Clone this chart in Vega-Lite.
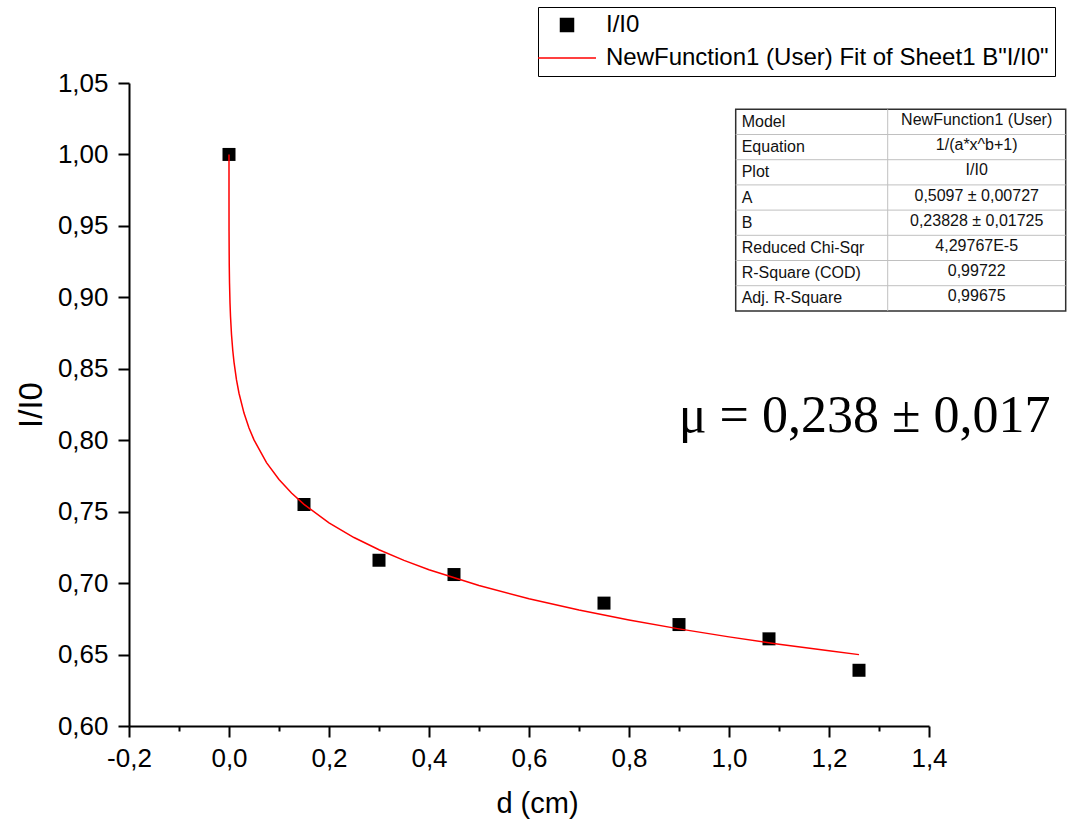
{
  "$schema": "https://vega.github.io/schema/vega-lite/v6.json",
  "width": 800,
  "height": 643,
  "autosize": {"type": "none"},
  "padding": {"left": 129, "top": 83, "right": 140, "bottom": 102},
  "background": "white",
  "config": {
    "view": {"stroke": null},
    "font": "Liberation Sans",
    "axis": {
      "grid": false,
      "domainColor": "black",
      "domainWidth": 2,
      "tickColor": "black",
      "tickWidth": 2,
      "labelColor": "black",
      "titleColor": "black",
      "labelFont": "Liberation Sans",
      "titleFont": "Liberation Sans",
      "labelFontSize": 26,
      "titleFontSize": 30,
      "titleFontWeight": "normal",
      "labelOverlap": false,
      "labelFlush": false
    },
    "legend": {
      "title": null,
      "orient": "none",
      "legendX": 409,
      "legendY": -76,
      "padding": 6,
      "strokeColor": "black",
      "fillColor": "white",
      "symbolSize": 169,
      "symbolStrokeWidth": 1.5,
      "labelFontSize": 24,
      "labelColor": "black",
      "labelLimit": 1000,
      "labelOffset": 38,
      "rowPadding": 9
    }
  },
  "datasets": {
    "points": [
      {"d": 0, "ratio": 1.0, "series": "I/I0"},
      {"d": 0.15, "ratio": 0.755, "series": "I/I0"},
      {"d": 0.3, "ratio": 0.716, "series": "I/I0"},
      {"d": 0.45, "ratio": 0.706, "series": "I/I0"},
      {"d": 0.75, "ratio": 0.686, "series": "I/I0"},
      {"d": 0.9, "ratio": 0.671, "series": "I/I0"},
      {"d": 1.08, "ratio": 0.661, "series": "I/I0"},
      {"d": 1.26, "ratio": 0.639, "series": "I/I0"}
    ],
    "fit": [
      {"d": 0, "ratio": 1.0, "series": "NewFunction1 (User) Fit of Sheet1 B\"I/I0\""},
      {"d": 0.0000001, "ratio": 0.98917, "series": "NewFunction1 (User) Fit of Sheet1 B\"I/I0\""},
      {"d": 0.000001, "ratio": 0.98139, "series": "NewFunction1 (User) Fit of Sheet1 B\"I/I0\""},
      {"d": 0.00001, "ratio": 0.96824, "series": "NewFunction1 (User) Fit of Sheet1 B\"I/I0\""},
      {"d": 0.0001, "ratio": 0.94628, "series": "NewFunction1 (User) Fit of Sheet1 B\"I/I0\""},
      {"d": 0.0005, "ratio": 0.92308, "series": "NewFunction1 (User) Fit of Sheet1 B\"I/I0\""},
      {"d": 0.001, "ratio": 0.9105, "series": "NewFunction1 (User) Fit of Sheet1 B\"I/I0\""},
      {"d": 0.002, "ratio": 0.89611, "series": "NewFunction1 (User) Fit of Sheet1 B\"I/I0\""},
      {"d": 0.003, "ratio": 0.88676, "series": "NewFunction1 (User) Fit of Sheet1 B\"I/I0\""},
      {"d": 0.005, "ratio": 0.87396, "series": "NewFunction1 (User) Fit of Sheet1 B\"I/I0\""},
      {"d": 0.0075, "ratio": 0.86294, "series": "NewFunction1 (User) Fit of Sheet1 B\"I/I0\""},
      {"d": 0.01, "ratio": 0.85461, "series": "NewFunction1 (User) Fit of Sheet1 B\"I/I0\""},
      {"d": 0.015, "ratio": 0.84222, "series": "NewFunction1 (User) Fit of Sheet1 B\"I/I0\""},
      {"d": 0.02, "ratio": 0.83287, "series": "NewFunction1 (User) Fit of Sheet1 B\"I/I0\""},
      {"d": 0.03, "ratio": 0.81899, "series": "NewFunction1 (User) Fit of Sheet1 B\"I/I0\""},
      {"d": 0.04, "ratio": 0.80859, "series": "NewFunction1 (User) Fit of Sheet1 B\"I/I0\""},
      {"d": 0.05, "ratio": 0.80024, "series": "NewFunction1 (User) Fit of Sheet1 B\"I/I0\""},
      {"d": 0.075, "ratio": 0.78434, "series": "NewFunction1 (User) Fit of Sheet1 B\"I/I0\""},
      {"d": 0.1, "ratio": 0.77252, "series": "NewFunction1 (User) Fit of Sheet1 B\"I/I0\""},
      {"d": 0.125, "ratio": 0.76305, "series": "NewFunction1 (User) Fit of Sheet1 B\"I/I0\""},
      {"d": 0.15, "ratio": 0.7551, "series": "NewFunction1 (User) Fit of Sheet1 B\"I/I0\""},
      {"d": 0.2, "ratio": 0.74221, "series": "NewFunction1 (User) Fit of Sheet1 B\"I/I0\""},
      {"d": 0.25, "ratio": 0.7319, "series": "NewFunction1 (User) Fit of Sheet1 B\"I/I0\""},
      {"d": 0.3, "ratio": 0.72334, "series": "NewFunction1 (User) Fit of Sheet1 B\"I/I0\""},
      {"d": 0.35, "ratio": 0.71588, "series": "NewFunction1 (User) Fit of Sheet1 B\"I/I0\""},
      {"d": 0.4, "ratio": 0.70936, "series": "NewFunction1 (User) Fit of Sheet1 B\"I/I0\""},
      {"d": 0.5, "ratio": 0.69828, "series": "NewFunction1 (User) Fit of Sheet1 B\"I/I0\""},
      {"d": 0.6, "ratio": 0.68904, "series": "NewFunction1 (User) Fit of Sheet1 B\"I/I0\""},
      {"d": 0.7, "ratio": 0.68112, "series": "NewFunction1 (User) Fit of Sheet1 B\"I/I0\""},
      {"d": 0.8, "ratio": 0.67418, "series": "NewFunction1 (User) Fit of Sheet1 B\"I/I0\""},
      {"d": 0.9, "ratio": 0.66798, "series": "NewFunction1 (User) Fit of Sheet1 B\"I/I0\""},
      {"d": 1.0, "ratio": 0.66238, "series": "NewFunction1 (User) Fit of Sheet1 B\"I/I0\""},
      {"d": 1.1, "ratio": 0.65729, "series": "NewFunction1 (User) Fit of Sheet1 B\"I/I0\""},
      {"d": 1.2, "ratio": 0.6526, "series": "NewFunction1 (User) Fit of Sheet1 B\"I/I0\""},
      {"d": 1.26, "ratio": 0.64995, "series": "NewFunction1 (User) Fit of Sheet1 B\"I/I0\""}
    ],
    "annot": [{"label": "μ = 0,238 ± 0,017"}],
    "table": [
      {"row": 1, "param": "Model", "value": "NewFunction1 (User)"},
      {"row": 2, "param": "Equation", "value": "1/(a*x^b+1)"},
      {"row": 3, "param": "Plot", "value": "I/I0"},
      {"row": 4, "param": "A", "value": "0,5097 ± 0,00727"},
      {"row": 5, "param": "B", "value": "0,23828 ± 0,01725"},
      {"row": 6, "param": "Reduced Chi-Sqr", "value": "4,29767E-5"},
      {"row": 7, "param": "R-Square (COD)", "value": "0,99722"},
      {"row": 8, "param": "Adj. R-Square", "value": "0,99675"}
    ]
  },
  "layer": [
    {
      "layer": [
        {
          "data": {"name": "points"},
          "mark": {"type": "point", "shape": "square", "filled": true, "size": 169, "opacity": 1},
          "encoding": {
            "x": {
              "field": "d", "type": "quantitative",
              "scale": {"domain": [-0.2, 1.4], "nice": false, "zero": false},
              "axis": {
                "title": "d (cm)",
                "values": [-0.2, -0.1, 0, 0.1, 0.2, 0.3, 0.4, 0.5, 0.6, 0.7, 0.8, 0.9, 1.0, 1.1, 1.2, 1.3, 1.4],
                "labelExpr": "round(datum.value*10) % 2 === 0 ? replace(replace(format(datum.value, '.1f'), '.', ','), '\u2212', '-') : ''",
                "tickSize": {"condition": {"test": "round(datum.value*10) % 2 === 0", "value": 11}, "value": 5},
                "labelPadding": 8,
                "titlePadding": 18,
                "titleFontSize": 29,
                "titleX": 408
              }
            },
            "y": {
              "field": "ratio", "type": "quantitative",
              "scale": {"domain": [0.6, 1.05], "nice": false, "zero": false},
              "axis": {
                "title": "I/I0",
                "values": [0.6, 0.625, 0.65, 0.675, 0.7, 0.725, 0.75, 0.775, 0.8, 0.825, 0.85, 0.875, 0.9, 0.925, 0.95, 0.975, 1.0, 1.025, 1.05],
                "labelExpr": "round(datum.value*1000) % 50 === 0 ? replace(format(datum.value, '.2f'), '.', ',') : ''",
                "tickSize": {"condition": {"test": "round(datum.value*1000) % 50 === 0", "value": 11}, "value": 5},
                "labelPadding": 10,
                "titlePadding": 9,
                "titleFontSize": 33
              }
            },
            "color": {
              "field": "series", "type": "nominal",
              "scale": {"domain": ["I/I0", "NewFunction1 (User) Fit of Sheet1 B\"I/I0\""], "range": ["black", "#ff0000"]},
              "legend": {
                "encode": {
                  "symbols": {
                    "update": {
                      "shape": {"signal": "datum.index === 0 ? 'square' : 'M-4.46,0L4.46,0'"},
                      "fill": {"signal": "datum.index === 0 ? 'black' : 'transparent'"},
                      "stroke": {"signal": "datum.index === 0 ? 'transparent' : '#ff0000'"},
                      "strokeWidth": {"value": 1.5},
                      "opacity": {"value": 1},
                      "x": {"value": 23}
                    }
                  }
                }
              }
            }
          }
        },
        {
          "data": {"name": "fit"},
          "mark": {"type": "line", "strokeWidth": 1.5},
          "encoding": {
            "x": {"field": "d", "type": "quantitative"},
            "y": {"field": "ratio", "type": "quantitative"},
            "color": {
              "field": "series", "type": "nominal",
              "legend": {
                "encode": {
                  "symbols": {
                    "update": {
                      "shape": {"signal": "datum.index === 0 ? 'square' : 'M-4.46,0L4.46,0'"},
                      "fill": {"signal": "datum.index === 0 ? 'black' : 'transparent'"},
                      "stroke": {"signal": "datum.index === 0 ? 'transparent' : '#ff0000'"},
                      "strokeWidth": {"value": 1.5},
                      "opacity": {"value": 1},
                      "x": {"value": 23}
                    }
                  }
                }
              }
            }
          }
        },
        {
          "data": {"name": "annot"},
          "mark": {"type": "text", "font": "Liberation Serif", "fontSize": 52, "align": "left", "baseline": "alphabetic", "color": "black"},
          "encoding": {
            "x": {"datum": 0.8994, "type": "quantitative"},
            "y": {"datum": 0.8058, "type": "quantitative"},
            "text": {"field": "label"}
          }
        }
      ]
    },
    {
      "data": {"name": "table"},
      "layer": [
        {
          "transform": [{"filter": "datum.row === 1"}],
          "mark": {"type": "rect", "fill": "white", "stroke": "#303030", "strokeWidth": 1.5},
          "encoding": {
            "x": {"datum": 1.0134, "type": "quantitative"},
            "x2": {"datum": 1.6734},
            "y": {"datum": 0.5, "type": "quantitative", "scale": {"domain": [-0.54365, 24.97222], "reverse": true, "nice": false, "zero": false}, "axis": null},
            "y2": {"datum": 8.5}
          }
        },
        {
          "transform": [{"filter": "datum.row < 8"}],
          "mark": {"type": "rule", "color": "#c0c0c0", "strokeWidth": 1},
          "encoding": {
            "x": {"datum": 1.0134, "type": "quantitative"},
            "x2": {"datum": 1.6734},
            "y": {"field": "row", "type": "quantitative", "axis": null},
            "yOffset": {"value": 12.6}
          }
        },
        {
          "transform": [{"filter": "datum.row === 1"}],
          "mark": {"type": "rule", "color": "#c0c0c0", "strokeWidth": 1},
          "encoding": {
            "x": {"datum": 1.3174, "type": "quantitative"},
            "y": {"datum": 0.5, "type": "quantitative", "axis": null},
            "y2": {"datum": 8.5}
          }
        },
        {
          "mark": {"type": "text", "font": "Liberation Sans", "fontSize": 16, "align": "left", "baseline": "middle", "color": "#111111"},
          "encoding": {
            "x": {"datum": 1.0254, "type": "quantitative"},
            "y": {"field": "row", "type": "quantitative", "axis": null},
            "text": {"field": "param"}
          }
        },
        {
          "mark": {"type": "text", "font": "Liberation Sans", "fontSize": 16, "align": "center", "baseline": "middle", "color": "#111111", "dy": -2},
          "encoding": {
            "x": {"datum": 1.4954, "type": "quantitative"},
            "y": {"field": "row", "type": "quantitative", "axis": null},
            "text": {"field": "value"}
          }
        }
      ]
    }
  ],
  "resolve": {"scale": {"y": "independent"}}
}
